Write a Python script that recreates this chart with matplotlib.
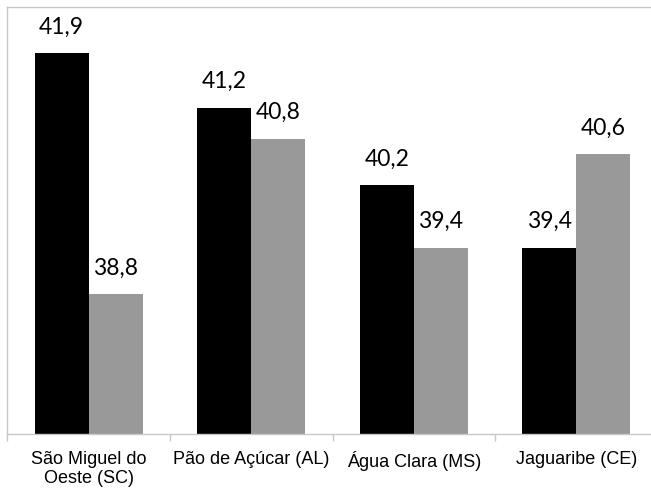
import numpy as np
import matplotlib
matplotlib.use("Agg")
import matplotlib.pyplot as plt

# Dados
cidades = ["São Miguel do\nOeste (SC)", "Pão de Açúcar (AL)", "Água Clara (MS)", "Jaguaribe (CE)"]
serie_preta = [41.9, 41.2, 40.2, 39.4]
serie_cinza = [38.8, 40.8, 39.4, 40.6]

fig = plt.figure(figsize=(6.51, 4.88), dpi=100)
# area do grafico um pouco cortada na direita, como no original
ax = fig.add_axes([7.3 / 651, 1 - 434.3 / 488, 650.5 / 651, 427.8 / 488])

x = np.arange(len(cidades))
largura = 0.332

b1 = ax.bar(x - largura / 2, serie_preta, largura, color="black")
b2 = ax.bar(x + largura / 2, serie_cinza, largura, color="#999999")

ax.set_ylim(37, 42.5)
ax.set_xlim(-0.5, len(cidades) - 0.5)

# rotulos dos valores
for barras in (b1, b2):
    for b in barras:
        v = b.get_height()
        ax.annotate(f"{v:.1f}".replace(".", ","),
                    (b.get_x() + b.get_width() / 2, v),
                    xytext=(0, 14), textcoords="offset points",
                    ha="center", va="baseline", fontsize=16.5, family="Lato")

# eixos
ax.set_yticks([])
ax.spines["right"].set_visible(False)
for s in ("top", "left", "bottom"):
    ax.spines[s].set_color("#c8c8c8")
    ax.spines[s].set_linewidth(1.0)

ax.set_xticks(np.arange(len(cidades) + 1) - 0.5, minor=True)
ax.tick_params(axis="x", which="minor", length=5, color="#c8c8c8", width=1)
ax.set_xticks(x)
ax.set_xticklabels(cidades, fontsize=13, family="Liberation Sans", linespacing=1.15)
ax.tick_params(axis="x", which="major", length=0, pad=12)

fig.savefig("out.png", dpi=100)
